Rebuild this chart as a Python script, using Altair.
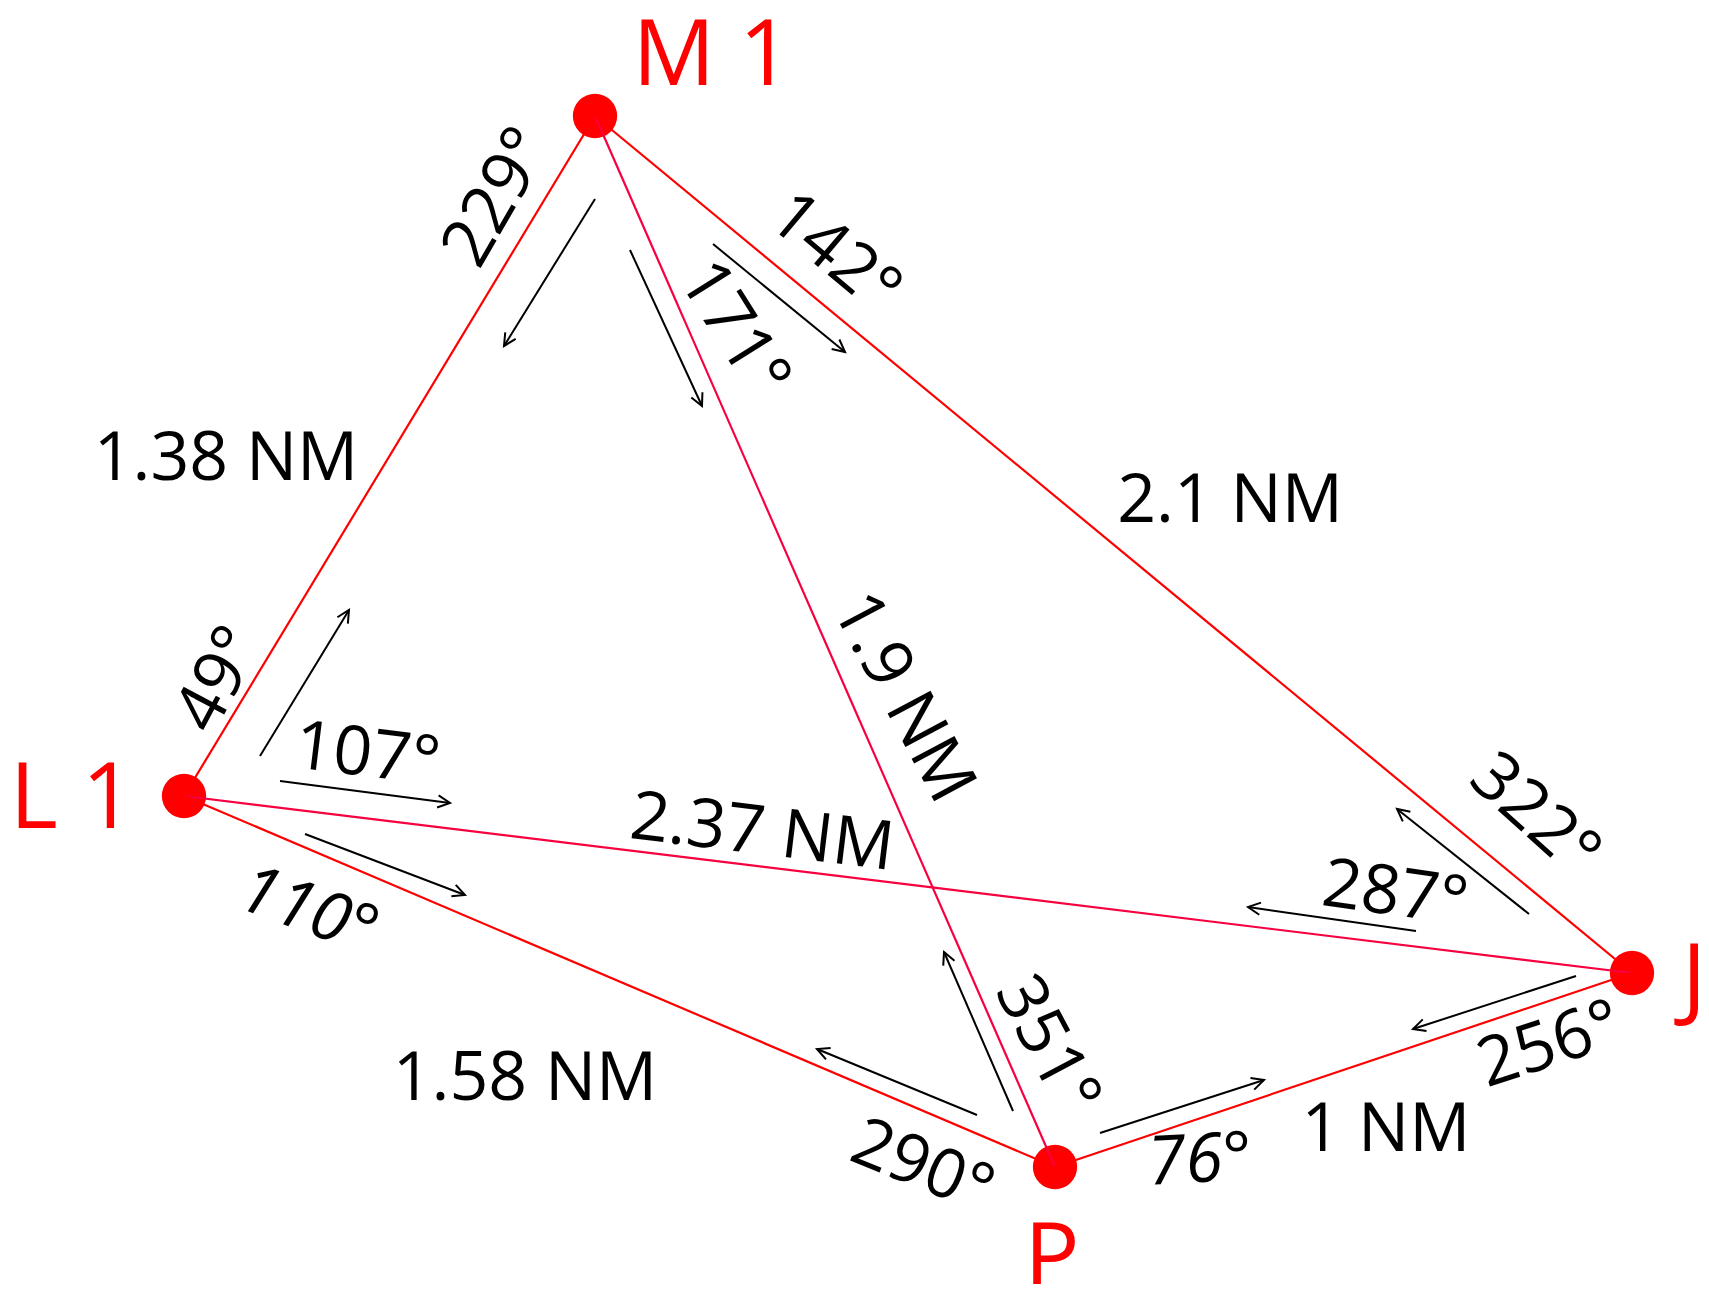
import math
import altair as alt
import pandas as pd

# ---------------- data ----------------
node_names = ["M 1", "L 1", "J", "P"]
node_x = [595, 184, 1632, 1055]
node_y = [116, 796, 973, 1167]

node_label_x = [712, 72, 1694, 1052]
node_label_y = [57, 800, 981, 1260]

edge_from = ["M 1", "M 1", "M 1", "L 1", "L 1", "P"]
edge_to = ["L 1", "P", "J", "J", "P", "J"]
edge_tone = ["red", "crimson", "red", "crimson", "red", "red"]

dist_text = ["1.38 NM", "2.1 NM", "1.58 NM", "1 NM", "2.37 NM", "1.9 NM"]
dist_x = [226, 1230, 525, 1386, 762, 902]
dist_y = [460, 502, 1080, 1131, 834, 698]
dist_angle = [0, 0, 0, 0, 7, 62]

bear_text = ["229°", "142°", "171°", "49°", "107°", "322°", "287°", "351°", "290°", "256°"]
bear_x = [498, 834, 733, 220, 367, 1534, 1395, 1046, 922, 1550]
bear_y = [198, 254, 330, 680, 756, 816, 895, 1046, 1168, 1046]
bear_angle = [300, 40, 58, 298, 7, 42, 8, 62, 22, 342]

ital_text = ["110°", "76°"]
ital_x = [308, 1200]
ital_y = [912, 1162]
ital_angle = [20, 357]

arrow_x1 = [595, 630, 713, 260, 280, 305, 977, 1013, 1100, 1576, 1416, 1529]
arrow_y1 = [199, 250, 244, 756, 781, 834, 1115, 1111, 1133, 976, 931, 914]
arrow_x2 = [504, 702, 845, 349, 450, 465, 817, 944, 1264, 1413, 1248, 1397]
arrow_y2 = [346, 406, 352, 610, 803, 895, 1049, 952, 1080, 1029, 907, 809]

# ---------------- tables ----------------
W, H = 1693, 1276
pos = dict(zip(node_names, zip(node_x, node_y)))

nodes = pd.DataFrame({"name": node_names, "x": node_x, "y": node_y})
node_labels = pd.DataFrame({"name": node_names, "x": node_label_x, "y": node_label_y})
edges = pd.DataFrame({
    "x": [pos[a][0] for a in edge_from],
    "y": [pos[a][1] for a in edge_from],
    "x2": [pos[b][0] for b in edge_to],
    "y2": [pos[b][1] for b in edge_to],
    "tone": edge_tone,
})
dists = pd.DataFrame({"t": dist_text, "x": dist_x, "y": dist_y, "a": dist_angle})
bears = pd.DataFrame({"t": bear_text, "x": bear_x, "y": bear_y, "a": bear_angle})
itals = pd.DataFrame({"t": ital_text, "x": ital_x, "y": ital_y, "a": ital_angle})
arrows = pd.DataFrame({"x": arrow_x1, "y": arrow_y1, "x2": arrow_x2, "y2": arrow_y2})
arrows["a"] = [
    math.degrees(math.atan2(x2 - x1, -(y2 - y1))) % 360
    for x1, y1, x2, y2 in zip(arrow_x1, arrow_y1, arrow_x2, arrow_y2)
]

xs = alt.Scale(domain=[8, 8 + W], nice=False, zero=False)
ys = alt.Scale(domain=[8, 8 + H], nice=False, zero=False, reverse=True)
X = lambda f="x": alt.X(f"{f}:Q", scale=xs, axis=None)
Y = lambda f="y": alt.Y(f"{f}:Q", scale=ys, axis=None)

circles = alt.Chart(nodes).mark_circle(size=1963, color="#ff0000", opacity=1).encode(x=X(), y=Y())

lines = alt.Chart(edges).mark_rule(strokeWidth=2.2).encode(
    x=X(), y=Y(), x2="x2:Q", y2="y2:Q",
    color=alt.Color("tone:N", scale=alt.Scale(domain=["red", "crimson"], range=["#ff0000", "#f7003f"]), legend=None),
)

shafts = alt.Chart(arrows).mark_rule(strokeWidth=2, color="black").encode(
    x=X(), y=Y(), x2="x2:Q", y2="y2:Q"
)
heads = alt.Chart(arrows).mark_point(
    shape="M -0.5 1 L 0 0 L 0.5 1", filled=False, color="black", strokeWidth=2, size=600, opacity=1
).encode(x=X("x2"), y=Y("y2"), angle=alt.Angle("a:Q", scale=None))

name_text = alt.Chart(node_labels).mark_text(
    font="Open Sans", fontSize=92, color="#ff0000", align="center", baseline="middle"
).encode(x=X(), y=Y(), text="name:N")

dist_layer = alt.Chart(dists).mark_text(
    font="Open Sans", fontSize=68, color="black", align="center", baseline="middle"
).encode(x=X(), y=Y(), text="t:N", angle=alt.Angle("a:Q", scale=None))

bear_layer = alt.Chart(bears).mark_text(
    font="Open Sans", fontSize=68, color="black", align="center", baseline="middle"
).encode(x=X(), y=Y(), text="t:N", angle=alt.Angle("a:Q", scale=None))

ital_layer = alt.Chart(itals).mark_text(
    font="Open Sans", fontSize=68, fontStyle="italic", color="black", align="center", baseline="middle"
).encode(x=X(), y=Y(), text="t:N", angle=alt.Angle("a:Q", scale=None))

chart = (
    alt.layer(circles, lines, shafts, heads, name_text, dist_layer, bear_layer, ital_layer)
    .properties(width=W, height=H, padding=0, autosize=alt.AutoSizeParams(type="none"), background="white")
    .configure_view(stroke=None)
)

chart.save("out.html", embed_options={"renderer": "svg", "actions": False})
